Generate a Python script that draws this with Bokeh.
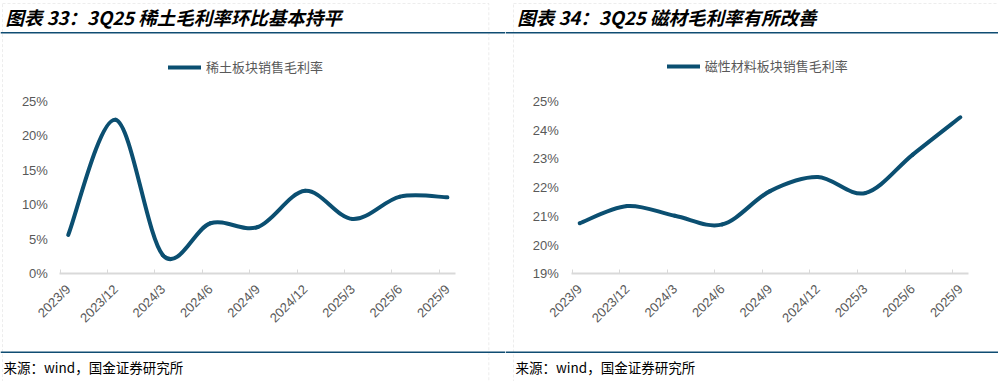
import math
from bokeh.plotting import figure
from bokeh.models import (LinearAxis, FixedTicker, CustomJSTickFormatter, Span, Legend,
                          LegendItem, PrintfTickFormatter, Range1d, BoxAnnotation)
from bokeh.layouts import row
from bokeh.core.properties import value
from bokeh.embed import file_html
from bokeh.resources import INLINE

# ---------------- data ----------------
quarters = ["2023/9", "2023/12", "2024/3", "2024/6", "2024/9",
            "2024/12", "2025/3", "2025/6", "2025/9"]
re_margin = [5.65, 22.35, 2.7, 7.35, 6.8, 12.05, 7.95, 11.2, 11.1]      # %
mag_margin = [20.76, 21.36, 21.02, 20.72, 21.88, 22.37, 21.81, 23.15, 24.45]  # %
re_ticks = [0, 5, 10, 15, 20, 25]
mag_ticks = [19, 20, 21, 22, 23, 24, 25]
titles = ["图表 33：3Q25 稀土毛利率环比基本持平", "图表 34：3Q25 磁材毛利率有所改善"]
series_names = ["稀土板块销售毛利率", "磁性材料板块销售毛利率"]
source_text = "来源：wind，国金证券研究所"

# ---------------- styles ----------------
LINE_C = "#0b4f71"
RULE_C = "#0f4c72"
AXIS_C = "#d9d9d9"
TXT_C = "#595959"
CJK = "Noto Sans CJK SC"
LAT = "Liberation Sans"
H = 381


def smooth_segments(ys):
    """Excel-like smoothed line: cubic Bezier control points through the data points."""
    n = len(ys)
    pts = [(float(i), float(v)) for i, v in enumerate(ys)]
    seg = dict(x0=[], y0=[], x1=[], y1=[], cx0=[], cy0=[], cx1=[], cy1=[])
    for i in range(n - 1):
        p0 = pts[i - 1] if i > 0 else pts[i]
        p1 = pts[i]
        p2 = pts[i + 1]
        p3 = pts[i + 2] if i + 2 < n else pts[i + 1]
        seg["x0"].append(p1[0]); seg["y0"].append(p1[1])
        seg["x1"].append(p2[0]); seg["y1"].append(p2[1])
        seg["cx0"].append(p1[0] + (p2[0] - p0[0]) / 6)
        seg["cy0"].append(p1[1] + (p2[1] - p0[1]) / 6)
        seg["cx1"].append(p2[0] - (p3[0] - p1[0]) / 6)
        seg["cy1"].append(p2[1] - (p3[1] - p1[1]) / 6)
    return seg


def panel(W, x0_px, dx, yv_ref, ypx_ref, ppu, ys, yticks, title, name,
          title_x, box_lr, source_x, leg_x, leg_vy, tick_off, bounds, ystand):
    def X(px):
        return (px - x0_px) / dx

    def Y(py):
        return yv_ref + (ypx_ref - py) / ppu

    p = figure(width=W, height=H, output_backend="svg", toolbar_location=None,
               x_range=Range1d(X(0), X(W)), y_range=Range1d(Y(H), Y(0)),
               x_axis_location=None, y_axis_location=None, title=None,
               min_border=0, outline_line_color=None)
    p.min_border_left = p.min_border_right = p.min_border_top = p.min_border_bottom = 0
    p.grid.visible = False

    # dashed panel frame
    p.add_layout(BoxAnnotation(left=X(box_lr[0]), right=X(box_lr[1]), top=Y(3), bottom=Y(H + 20),
                               fill_color=None, fill_alpha=0, line_color="#c4c4c4",
                               line_width=1, line_dash="3 2"))

    # axis line + tick marks (ticks sit between labels like the original)
    ax_line = LinearAxis(fixed_location=yticks[0],
                         ticker=FixedTicker(ticks=[k + tick_off for k in range(len(quarters))]),
                         formatter=CustomJSTickFormatter(code="return ''"),
                         bounds=bounds, axis_line_color=AXIS_C, axis_line_width=2,
                         major_tick_line_color=AXIS_C, major_tick_line_width=1,
                         major_tick_in=4, major_tick_out=0, minor_tick_line_color=None)
    p.add_layout(ax_line, "below")
    # category labels
    ax_lab = LinearAxis(fixed_location=yticks[0],
                        ticker=FixedTicker(ticks=list(range(len(quarters)))),
                        major_label_overrides={i: q for i, q in enumerate(quarters)},
                        major_label_orientation=math.pi / 4,
                        axis_line_color=None, major_tick_line_color=None,
                        minor_tick_line_color=None, major_label_standoff=7,
                        major_label_text_font=LAT, major_label_text_font_size="13px",
                        major_label_text_color=TXT_C)
    p.add_layout(ax_lab, "below")
    # y axis
    yax = LinearAxis(fixed_location=bounds[0], ticker=FixedTicker(ticks=yticks),
                     formatter=PrintfTickFormatter(format="%d%%"),
                     axis_line_color=None, major_tick_line_color=None,
                     minor_tick_line_color=None, major_label_standoff=ystand,
                     major_label_text_font=LAT, major_label_text_font_size="13px",
                     major_label_text_color=TXT_C)
    p.add_layout(yax, "left")

    seg = smooth_segments(ys)
    r = p.bezier(source=seg, x0="x0", y0="y0", x1="x1", y1="y1",
                 cx0="cx0", cy0="cy0", cx1="cx1", cy1="cy1",
                 line_color=LINE_C, line_width=4, line_cap="round")

    leg = Legend(items=[LegendItem(label=name, renderers=[r])], location=(leg_x, leg_vy),
                 orientation="horizontal", background_fill_alpha=0, border_line_color=None,
                 padding=0, margin=0, glyph_width=33, glyph_height=14, label_height=14,
                 label_standoff=5, label_text_font=CJK, label_text_font_size="13px",
                 label_text_color=TXT_C)
    p.add_layout(leg)

    # title, rules, source
    p.text(x=[X(title_x)], y=[Y(16.5)], text=[title], text_font=value(CJK),
           text_font_size="18.5px", text_font_style="bold italic", text_color="black",
           text_baseline="middle", text_align="left")
    p.add_layout(Span(location=Y(32.3), dimension="width", line_color=RULE_C, line_width=1.5))
    p.add_layout(Span(location=Y(351.7), dimension="width", line_color=RULE_C, line_width=1.5))
    p.text(x=[X(source_x)], y=[Y(366.7)], text=[source_text], text_font=value(CJK),
           text_font_size="13.5px", text_color="black", text_baseline="middle",
           text_align="left")
    return p


p1 = panel(W=505, x0_px=67.7, dx=47.4, yv_ref=0, ypx_ref=273.4, ppu=6.896,
           ys=re_margin, yticks=re_ticks, title=titles[0], name=series_names[0],
           title_x=5, box_lr=(2, 488.3), source_x=3, leg_x=168, leg_vy=305,
           tick_off=-0.17, bounds=(-0.175, 8.17), ystand=6)
p2 = panel(W=493, x0_px=74.2, dx=47.58, yv_ref=19, ypx_ref=273.3, ppu=28.72,
           ys=mag_margin, yticks=mag_ticks, title=titles[1], name=series_names[1],
           title_x=11.7, box_lr=(8, 497), source_x=10, leg_x=161.7, leg_vy=305.7,
           tick_off=-0.16, bounds=(-0.165, 8.18), ystand=7)

layout = row(p1, p2, spacing=0)
open("out.html", "w").write(file_html(layout, INLINE))
